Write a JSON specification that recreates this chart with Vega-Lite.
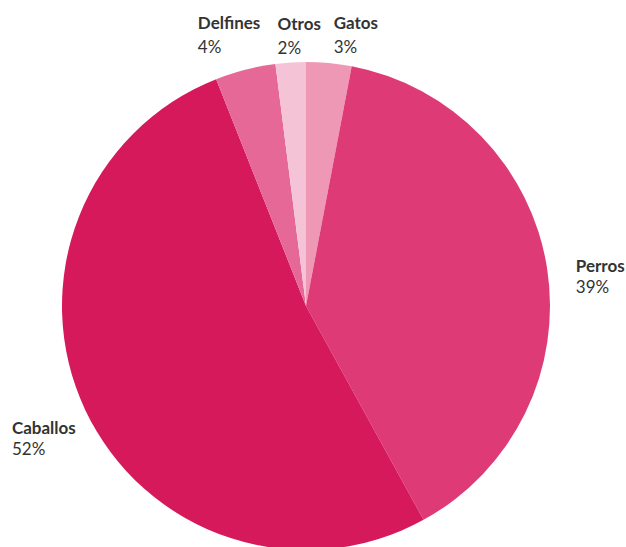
{
  "$schema": "https://vega.github.io/schema/vega-lite/v6.json",
  "autosize": {"type": "none"},
  "padding": {"left": 0, "top": 65, "right": 14, "bottom": 0},
  "width": 612,
  "height": 482,
  "background": "white",
  "data": {
    "values": [
      {"animal": "Gatos", "pct": 3, "orden": 1},
      {"animal": "Perros", "pct": 39, "orden": 2},
      {"animal": "Caballos", "pct": 52, "orden": 3},
      {"animal": "Delfines", "pct": 4, "orden": 4},
      {"animal": "Otros", "pct": 2, "orden": 5}
    ]
  },
  "transform": [{"calculate": "datum.pct + '%'", "as": "etiqueta"}],
  "encoding": {
    "theta": {"field": "pct", "type": "quantitative", "stack": true},
    "order": {"field": "orden", "type": "quantitative"}
  },
  "layer": [
    {
      "mark": {"type": "arc", "outerRadius": 244},
      "encoding": {
        "color": {
          "field": "animal",
          "type": "nominal",
          "scale": {
            "domain": ["Gatos", "Perros", "Caballos", "Delfines", "Otros"],
            "range": ["#ee98b6", "#de3a76", "#d5195b", "#e56897", "#f4c4d6"]
          },
          "legend": null
        }
      }
    },
    {
      "mark": {
        "type": "text",
        "radius": 262,
        "align": "left",
        "baseline": "middle",
        "font": "Lato",
        "fontWeight": "bold",
        "fontSize": 17,
        "color": "#333333",
        "dx": {"expr": "datum.animal == 'Gatos' ? 3 : datum.animal == 'Otros' ? -12 : datum.animal == 'Delfines' ? -43 : datum.animal == 'Perros' ? 11 : -57"},
        "dy": {"expr": "datum.animal == 'Gatos' ? -21 : datum.animal == 'Otros' ? -20 : datum.animal == 'Delfines' ? -28 : datum.animal == 'Perros' ? 2 : 11"}
      },
      "encoding": {"text": {"field": "animal"}}
    },
    {
      "mark": {
        "type": "text",
        "radius": 262,
        "align": "left",
        "baseline": "middle",
        "font": "Lato",
        "fontSize": 17,
        "color": "#333333",
        "dx": {"expr": "datum.animal == 'Gatos' ? 3 : datum.animal == 'Otros' ? -12 : datum.animal == 'Delfines' ? -43 : datum.animal == 'Perros' ? 11 : -57"},
        "dy": {"expr": "datum.animal == 'Gatos' ? 3 : datum.animal == 'Otros' ? 4 : datum.animal == 'Delfines' ? -4 : datum.animal == 'Perros' ? 23 : 32"}
      },
      "encoding": {"text": {"field": "etiqueta"}}
    }
  ]
}
